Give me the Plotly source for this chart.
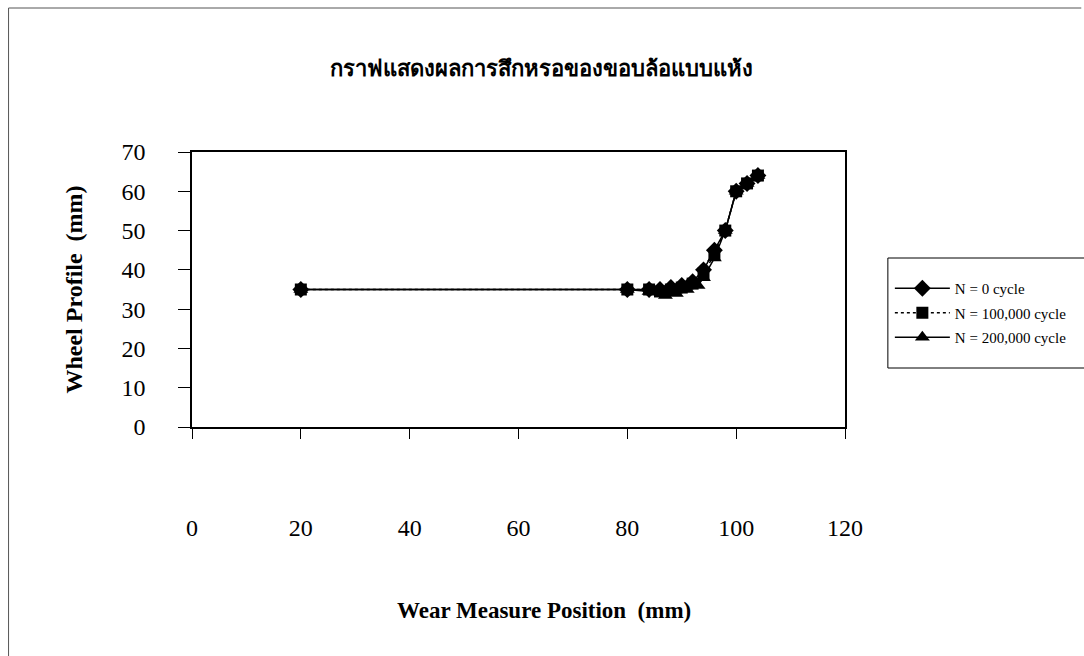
import plotly.graph_objects as go

title_text = "กราฟแสดงผลการสึกหรอของขอบล้อแบบแห้ง"
x_title = "Wear Measure Position  (mm)"
y_title = "Wheel Profile  (mm)"

series_names = ["N = 0 cycle", "N = 100,000 cycle", "N = 200,000 cycle"]

x_n0 = [20, 80, 84, 86, 88, 90, 92, 94, 96, 98, 100, 102, 104]
y_n0 = [35, 35, 35, 35, 35.5, 36, 37, 40, 45, 50, 60, 62, 64]

x_n100k = [20, 80, 84, 86, 88, 90, 92, 94, 96, 98, 100, 102, 104]
y_n100k = [35, 35, 35, 34.5, 35, 35.5, 36.5, 39, 44, 50, 60, 62, 64]

x_n200k = [20, 80, 84, 87, 89, 91, 93, 94, 96, 98, 100, 102, 104]
y_n200k = [35, 35, 34.5, 33.5, 34, 35, 36, 38, 43, 50, 60, 62, 64]

x_ticks = [0, 20, 40, 60, 80, 100, 120]
y_ticks = [0, 10, 20, 30, 40, 50, 60, 70]

serif = "Liberation Serif, Times New Roman, serif"

fig = go.Figure()
styles = [
    dict(symbol="diamond", dash="solid", size=13),
    dict(symbol="square", dash="dot", size=12),
    dict(symbol="triangle-up", dash="solid", size=13),
]
for i, (xs, ys) in enumerate([(x_n0, y_n0), (x_n100k, y_n100k), (x_n200k, y_n200k)]):
    st = styles[i]
    fig.add_trace(go.Scatter(
        x=xs, y=ys, name=series_names[i], mode="lines+markers",
        legendgroup=f"g{i}",
        line=dict(color="black", width=1.5, dash=st["dash"]),
        marker=dict(symbol=st["symbol"], size=st["size"], color="black"),
    ))

L, R, T, B = 192, 237, 152, 229
W, H = 1084, 656
pw, ph = W - L - R, H - T - B

def px(xp):
    return (xp - L) / pw

def py(yp):
    return (H - B - yp) / ph

fig.update_layout(
    width=W, height=H,
    margin=dict(l=L, r=R, t=T, b=B),
    paper_bgcolor="white", plot_bgcolor="white",
    font=dict(family=serif, color="black"),
    title=dict(text=title_text, x=541 / W, xref="container", y=1 - 68 / H, yref="container",
               xanchor="center", yanchor="middle",
               font=dict(family="Noto Sans, DejaVu Sans, sans-serif", size=22, color="black", weight="bold")),
    showlegend=True,
    legend=dict(x=px(892), y=py(272), xanchor="left", yanchor="top",
                bgcolor="rgba(0,0,0,0)", borderwidth=0,
                font=dict(family=serif, size=15, color="black"),
                itemwidth=55, tracegroupgap=2),
    annotations=[
        dict(text=x_title, xref="paper", yref="paper", x=px(545), y=py(610),
             xanchor="center", yanchor="middle", showarrow=False,
             font=dict(family=serif, size=23, color="black", weight="bold")),
    ],
    shapes=[
        dict(type="line", xref="paper", yref="paper", x0=px(8), x1=px(1084), y0=py(8), y1=py(8),
             line=dict(color="#555", width=1)),
        dict(type="line", xref="paper", yref="paper", x0=px(8), x1=px(8), y0=py(8), y1=py(656),
             line=dict(color="#555", width=1)),
        dict(type="rect", xref="paper", yref="paper", x0=px(890), x1=px(1095), y0=py(258), y1=py(368),
             line=dict(color="black", width=1), fillcolor="white", layer="below"),
    ],
)

fig.update_xaxes(
    range=[0, 120], tickvals=x_ticks, ticktext=[str(v) for v in x_ticks],
    showgrid=False, zeroline=False, showline=True, linecolor="black", linewidth=1.5,
    mirror=True, ticks="outside", ticklen=10, tickcolor="black",
    ticklabelstandoff=68,
    tickfont=dict(family=serif, size=24, color="black"),
)
fig.update_yaxes(
    range=[0, 70], tickvals=y_ticks, ticktext=[str(v) for v in y_ticks],
    showgrid=False, zeroline=False, showline=True, linecolor="black", linewidth=1.5,
    mirror=True, ticks="outside", ticklen=12, tickcolor="black",
    ticklabelstandoff=28,
    tickfont=dict(family=serif, size=24, color="black"),
    title=dict(text=y_title, standoff=32, font=dict(family=serif, size=24, color="black", weight="bold")),
)

fig.write_html("out.html")
